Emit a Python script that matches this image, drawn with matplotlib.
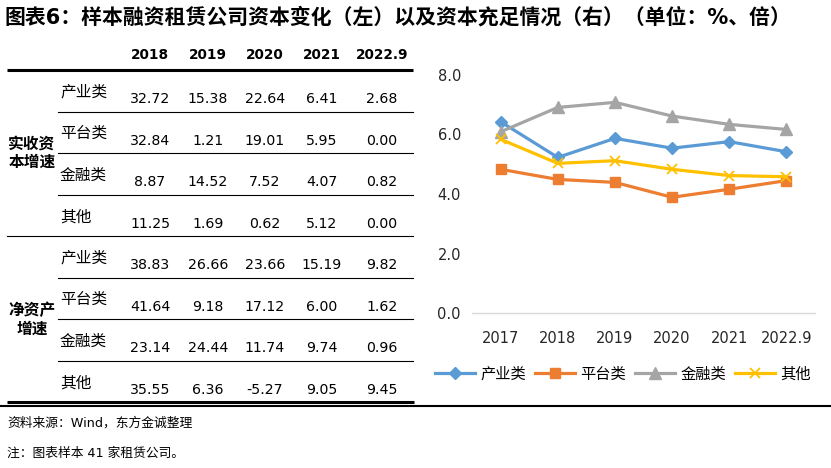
import matplotlib
matplotlib.use('Agg')
import matplotlib.pyplot as plt

plt.rcParams['font.family'] = ['DejaVu Sans', 'Noto Sans CJK SC']

title = '图表6：样本融资租赁公司资本变化（左）以及资本充足情况（右）（单位：%、倍）'

# 左侧表格
table_years = ['2018', '2019', '2020', '2021', '2022.9']
row_names = ['产业类', '平台类', '金融类', '其他']
group_names = ['实收资\n本增速', '净资产\n增速']
paid_in_growth = [
    [32.72, 15.38, 22.64, 6.41, 2.68],
    [32.84, 1.21, 19.01, 5.95, 0.00],
    [8.87, 14.52, 7.52, 4.07, 0.82],
    [11.25, 1.69, 0.62, 5.12, 0.00],
]
net_asset_growth = [
    [38.83, 26.66, 23.66, 15.19, 9.82],
    [41.64, 9.18, 17.12, 6.00, 1.62],
    [23.14, 24.44, 11.74, 9.74, 0.96],
    [35.55, 6.36, -5.27, 9.05, 9.45],
]

# 右侧折线图
chart_years = ['2017', '2018', '2019', '2020', '2021', '2022.9']
industrial = [6.43, 5.23, 5.87, 5.54, 5.76, 5.42]
platform = [4.83, 4.49, 4.39, 3.89, 4.16, 4.45]
financial = [6.09, 6.91, 7.08, 6.62, 6.34, 6.17]
others = [5.84, 5.03, 5.12, 4.83, 4.62, 4.58]

source = '资料来源：Wind，东方金诚整理'
note = '注：图表样本 41 家租赁公司。'

fig = plt.figure(figsize=(8.31, 4.68), dpi=100)

# 背景坐标系，按像素放置表格
bg = fig.add_axes([0, 0, 1, 1])
bg.set_xlim(0, 831)
bg.set_ylim(468, 0)
bg.axis('off')

bg.text(5, 17, title, fontsize=15, fontweight='bold', va='center', ha='left')

col_x = [150, 208, 265, 322, 382]
for x, yr in zip(col_x, table_years):
    bg.text(x, 55, yr, fontsize=9.8, fontweight='bold', ha='center', va='center')
bg.plot([7, 413], [70.3, 70.3], color='black', lw=2.2, solid_capstyle='butt')

row_h = 41.5
top0 = 70.3
for g, data in enumerate([paid_in_growth, net_asset_growth]):
    for r, (name, vals) in enumerate(zip(row_names, data)):
        i = g * 4 + r
        top = top0 + i * row_h
        bg.text(60, top + 22, name, fontsize=11.3, ha='left', va='center')
        for x, v in zip(col_x, vals):
            bg.text(x, top + 29, '%.2f' % v, fontsize=10.2, ha='center', va='center')
        bottom = top + row_h
        if r < 3:
            bg.plot([58, 413], [bottom, bottom], color='black', lw=0.8)
        elif g == 0:
            bg.plot([7, 413], [bottom, bottom], color='black', lw=0.8)
    mid = top0 + (g * 4 + 2) * row_h
    bg.text(32, mid, group_names[g], fontsize=11.3, fontweight='bold',
            ha='center', va='center', linespacing=1.3)

bg.plot([7, 414], [402.3, 402.3], color='black', lw=2.2, solid_capstyle='butt')
bg.plot([0, 831], [405.7, 405.7], color='black', lw=1.5, solid_capstyle='butt')

bg.text(7, 423, source, fontsize=9.2, ha='left', va='center')
bg.text(7, 453, note, fontsize=9.2, ha='left', va='center')

# 折线图
ax = fig.add_axes([472 / 831, 1 - 313 / 468, 343 / 831, 238 / 468])
x = range(len(chart_years))
ax.plot(x, industrial, color='#5B9BD5', lw=2.3, marker='D', ms=6, label='产业类', clip_on=False)
ax.plot(x, platform, color='#ED7D31', lw=2.3, marker='s', ms=7, label='平台类', clip_on=False)
ax.plot(x, financial, color='#A5A5A5', lw=2.3, marker='^', ms=8, label='金融类', clip_on=False)
ax.plot(x, others, color='#FFC000', lw=2.3, marker='x', ms=7, mew=1.3, label='其他', clip_on=False)

ax.set_xlim(-0.5, 5.5)
ax.set_ylim(0, 8)
ax.set_yticks([0, 2, 4, 6, 8])
ax.set_yticklabels(['0.0', '2.0', '4.0', '6.0', '8.0'])
ax.set_xticks(list(x))
ax.set_xticklabels(chart_years)
ax.tick_params(axis='both', length=0, labelsize=10.5, colors='#262626')
ax.tick_params(axis='x', pad=13)
ax.tick_params(axis='y', pad=8)
for s in ['top', 'right', 'left']:
    ax.spines[s].set_visible(False)
ax.spines['bottom'].set_color('#D9D9D9')
ax.spines['bottom'].set_linewidth(1)

fig.legend(loc='center', bbox_to_anchor=(623 / 831, 1 - 374 / 468), ncol=4,
           frameon=False, fontsize=11, handlelength=2.6, handletextpad=0.35,
           columnspacing=0.6)

fig.savefig('out.png', dpi=100)
